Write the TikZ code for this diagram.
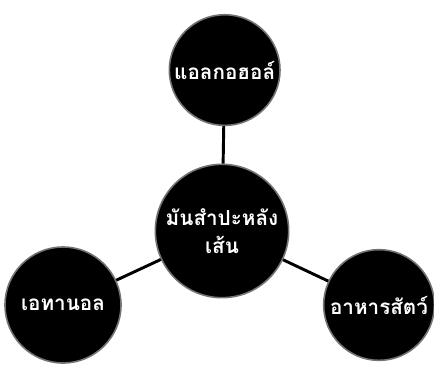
\documentclass[tikz,border=0pt]{standalone}
\usepackage{fontspec}
\newfontfamily\thaifont[Script=Thai]{Loma}
\usepackage{tikz}
\usetikzlibrary{positioning}

\begin{document}
\begin{tikzpicture}[
        x=0.75pt, y=-0.75pt,
        font=\thaifont\bfseries\fontsize{15.5}{21}\selectfont,
        hub/.style={circle, draw=black!55, line width=1.2pt, fill=black, text=white, minimum size=100pt, inner sep=0pt, align=center},
        use/.style={circle, draw=black!55, line width=1.2pt, fill=black, text=white, minimum size=83pt, inner sep=0pt, align=center},
        link/.style={line width=2.2pt, black}
    ]
        \useasboundingbox (0,0) rectangle (434,368);
        \node[hub] (cassava) at (222,231) {มันสำปะหลัง\\เส้น};
        \node[use, above=28pt of cassava, xshift=2pt] (alcohol) {แอลกอฮอล์};
        \node[use, minimum size=87pt] (ethanol) at (63,305) {เอทานอล};
        \node[use] (feed) at (379,305) {อาหารสัตว์};
        \draw[link] (cassava) -- (alcohol);
        \draw[link] (cassava) -- (ethanol);
        \draw[link] (cassava) -- (feed);
    \end{tikzpicture}
\end{document}
